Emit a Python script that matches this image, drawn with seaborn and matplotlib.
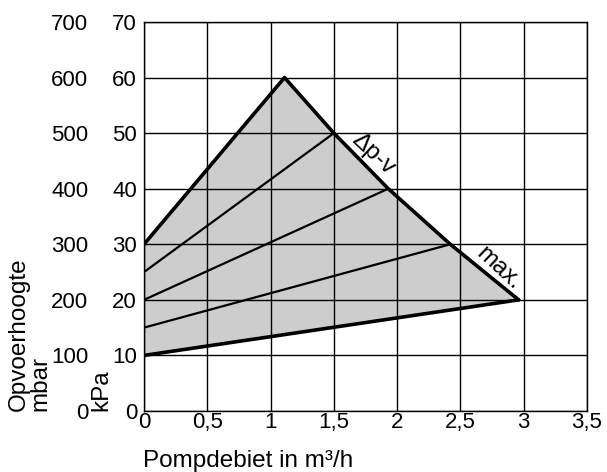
import matplotlib
matplotlib.use("Agg")
import matplotlib.pyplot as plt
import seaborn as sns
import pandas as pd

# Data
flow_max = [0, 1.11, 1.5, 1.93, 2.42, 2.96]       # upper boundary (m3/h)
head_max = [30, 60, 50, 40, 30, 20]               # kPa
flow_min = [0, 2.96]
head_min = [10, 20]
inner_start = [25, 20, 15]                        # kPa at 0 flow
inner_end_flow = [1.5, 1.93, 2.42]
inner_end_head = [50, 40, 30]
x_ticks = [0, 0.5, 1, 1.5, 2, 2.5, 3, 3.5]
x_ticklabels = ["0", "0,5", "1", "1,5", "2", "2,5", "3", "3,5"]
kpa_ticks = [0, 10, 20, 30, 40, 50, 60, 70]
mbar_ticks = [0, 100, 200, 300, 400, 500, 600, 700]

sns.set_theme(style="white")
plt.rcParams['font.family'] = ['Liberation Sans', 'DejaVu Sans']
plt.rcParams['text.color'] = 'black'
plt.rcParams['axes.labelcolor'] = 'black'
plt.rcParams['xtick.color'] = 'black'
plt.rcParams['ytick.color'] = 'black'
FS = 16
LFS = 17.5

fig = plt.figure(figsize=(6.07, 4.72), dpi=100)
ax = fig.add_axes([144/607, 1-411/472, (587-144)/607, (411-22)/472])

# fill polygon
poly_x = flow_max + flow_min[::-1]
poly_y = head_max + head_min[::-1]
ax.fill(poly_x, poly_y, color="#cdcdcd", zorder=1, lw=0)

# grid
ax.set_xlim(0, 3.5)
ax.set_ylim(0, 70)
ax.set_xticks(x_ticks)
ax.set_xticklabels(x_ticklabels, fontsize=FS, color="black")
ax.set_yticks(kpa_ticks)
ax.set_yticklabels([str(t) for t in kpa_ticks], fontsize=FS, color="black")
ax.grid(True, color="black", lw=1.0, zorder=0.5)
ax.set_axisbelow(False)
for s in ax.spines.values():
    s.set_color("black"); s.set_linewidth(1.0)
ax.tick_params(axis="both", length=0, colors="black", labelcolor="black")
ax.tick_params(axis="y", pad=5)
ax.tick_params(axis="x", pad=1)

# inner lines
for y0, fx, fy in zip(inner_start, inner_end_flow, inner_end_head):
    df = pd.DataFrame({"x": [0, fx], "y": [y0, fy]})
    sns.lineplot(data=df, x="x", y="y", ax=ax, color="black", lw=1.6, zorder=3, sort=False)

# boundaries
df_max = pd.DataFrame({"x": flow_max, "y": head_max})
sns.lineplot(data=df_max, x="x", y="y", ax=ax, color="black", lw=2.6, zorder=4, sort=False)
df_min = pd.DataFrame({"x": flow_min + [flow_max[-1]], "y": head_min + [head_max[-1]]})
sns.lineplot(data=df_min, x="x", y="y", ax=ax, color="black", lw=2.6, zorder=4, sort=False)

ax.set_xlabel("")
ax.set_ylabel("")

# secondary mbar axis
sec = ax.secondary_yaxis("left", functions=(lambda y: y*10, lambda y: y/10))
sec.set_yticks(mbar_ticks)
sec.set_yticklabels([str(t) for t in mbar_ticks], fontsize=FS, color="black")
sec.tick_params(axis="y", length=0, pad=40, colors="black", labelcolor="black")
sec.spines["left"].set_visible(False)

# annotations
ax.text(1.81, 46.3, "Δp-v", rotation=-43, rotation_mode="anchor",
        ha="center", va="center", fontsize=LFS, color="black", zorder=5)
ax.text(2.80, 25.6, "max.", rotation=-43, rotation_mode="anchor",
        ha="center", va="center", fontsize=LFS, color="black", zorder=5)

# labels
fig.text(143/607, 1-461/472, "Pompdebiet in m³/h", ha="left", va="center", fontsize=LFS, color="black")
fig.text(19/607, 1-411/472, "Opvoerhoogte", rotation=90, ha="center", va="bottom", fontsize=LFS, color="black")
fig.text(40/607, 1-411/472, "mbar", rotation=90, ha="center", va="bottom", fontsize=LFS, color="black")
fig.text(101/607, 1-411/472, "kPa", rotation=90, ha="center", va="bottom", fontsize=LFS, color="black")

fig.savefig("out.png", dpi=100)
